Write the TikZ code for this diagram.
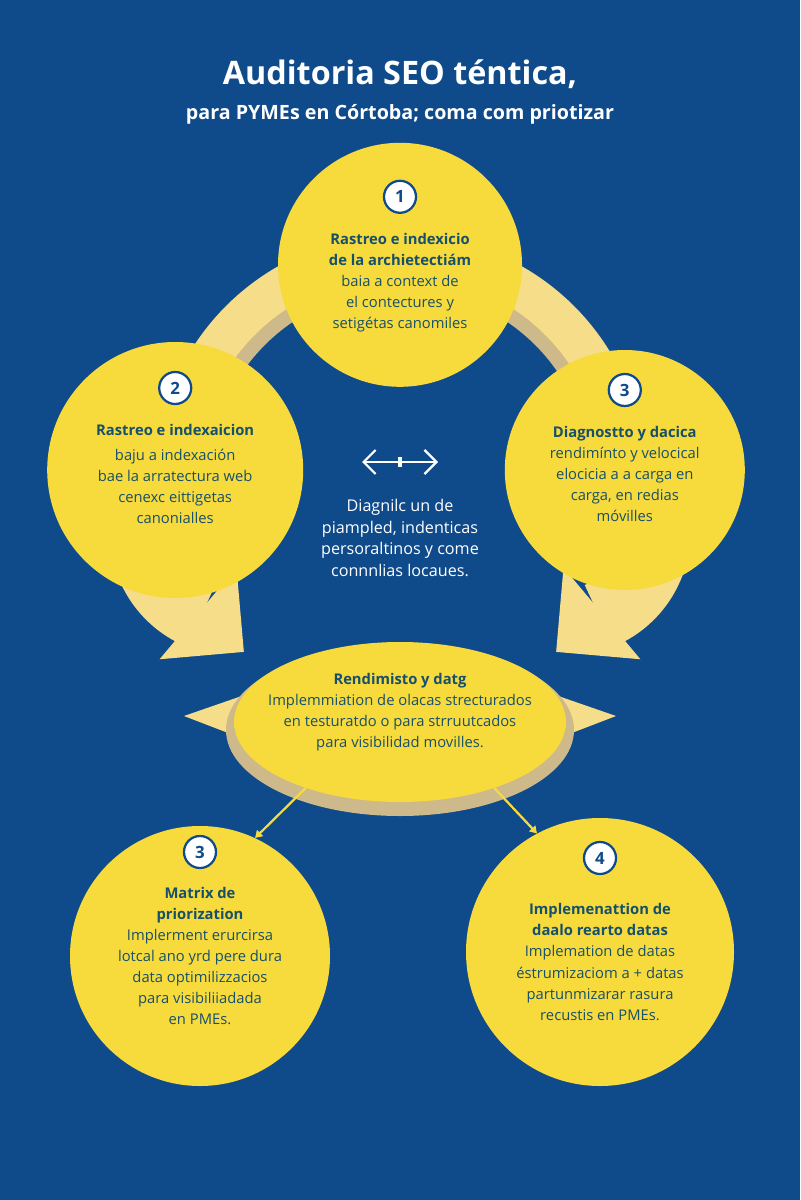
\documentclass[tikz,border=0pt]{standalone}
\usepackage{fontspec}
\setmainfont{Open Sans}
\usetikzlibrary{arrows.meta, positioning, shapes.geometric}
\definecolor{bgblue}{HTML}{0F4A8A}
\definecolor{sunyellow}{HTML}{F7DA3C}
\definecolor{paleyellow}{HTML}{F5DD8A}
\definecolor{tanshade}{HTML}{CDB98A}
\definecolor{inkteal}{HTML}{17506A}
\tikzset{
  stepdisc/.style={circle, fill=sunyellow},
  badge/.style={circle, draw=bgblue, line width=1.6pt, fill=white, minimum size=0.8cm, inner sep=0pt,
    text=bgblue, font=\bfseries\fontsize{12}{14}\selectfont},
  steptext/.style={align=center, text=inkteal, font=\fontsize{10.5}{15}\selectfont},
  bigarrow/.style={paleyellow, line width=1.7cm, -{Triangle[width=2.9cm, length=1.5cm]}},
}
\begin{document}
\begin{tikzpicture}
    % Background
    \fill[bgblue] (0,0) rectangle (20,-30);
    \useasboundingbox (0,0) rectangle (20,-30);

    % Title
    \node[text=white, font=\bfseries\fontsize{23}{27}\selectfont] (title) at (10,-1.85) {Auditoria SEO téntica,};
    \node[text=white, font=\bfseries\fontsize{14}{17}\selectfont] (subtitle) at (10,-2.85) {para PYMEs en Córtoba; coma com priotizar};

    % Ring behind the steps
    \draw[paleyellow, line width=1.3cm] (10,-12) ++(200:5.5) arc (200:-20:5.5);
    \draw[tanshade, line width=0.35cm] (10,-12) ++(200:4.95) arc (200:-20:4.95);

    % Big arrows down to the centre step
    \draw[bigarrow] (3.6,-13.6) to[out=-80,in=140] (6.1,-16.3);
    \draw[bigarrow] (16.4,-13.6) to[out=-100,in=40] (13.9,-16.3);

    % Ellipse side wings
    \fill[paleyellow] (4.6,-17.9) -- (7.2,-17.0) -- (7.2,-18.9) -- cycle;
    \fill[paleyellow] (15.4,-17.9) -- (12.8,-17.0) -- (12.8,-18.9) -- cycle;

    % Steps
    \node[stepdisc, minimum size=6.1cm] (s1) at (10,-6.62) {};
    \node[stepdisc, minimum size=6.4cm] (s2) at (4.38,-11.75) {};
    \node[stepdisc, minimum size=6.0cm] (s3) at (15.62,-11.75) {};
    \fill[tanshade] (10,-18.25) ellipse (4.35cm and 2.15cm);
    \node[ellipse, fill=sunyellow, minimum width=8.3cm, minimum height=4.0cm] (s5) at (10,-18.05) {};
    \node[stepdisc, minimum size=6.5cm] (s6) at (5,-23.9) {};
    \node[stepdisc, minimum size=6.7cm] (s7) at (15,-23.8) {};

    % Connectors to lower steps
    \draw[sunyellow, line width=1.6pt, -{Triangle[length=5pt, width=6pt]}] (s5.215) -- (s6.65);
    \draw[sunyellow, line width=1.6pt, -{Triangle[length=5pt, width=6pt]}] (s5.325) -- (s7.118);

    % Badges
    \node[badge] (b1) at ([yshift=1.7cm]s1.center) {1};
    \node[badge] (b2) at ([yshift=2.05cm]s2.center) {2};
    \node[badge] (b3) at ([yshift=2.0cm]s3.center) {3};
    \node[badge] (b6) at ([yshift=2.6cm]s6.center) {3};
    \node[badge] (b7) at ([yshift=2.35cm]s7.center) {4};

    % Step texts
    \node[steptext] (t1) at ([yshift=-0.45cm]s1.center) {\textbf{Rastreo e indexicio}\\\textbf{de la archietectiám}\\baia a context de\\el contectures y\\setigétas canomiles};
    \node[steptext] (t2) at ([yshift=-0.1cm]s2.center) {\textbf{Rastreo e indexaicion}\\[3pt]baju a indexación\\bae la arratectura web\\cenexc eittigetas\\canonialles};
    \node[steptext] (t3) at ([yshift=-0.1cm]s3.center) {\textbf{Diagnostto y dacica}\\rendimínto y velocical\\elocicia a a carga en\\carga, en redias\\móvilles};
    \node[steptext] (t5) at ([yshift=0.25cm]s5.center) {\textbf{Rendimisto y datg}\\Implemmiation de olacas strecturados\\en testuratdo o para strruutcados\\para visibilidad movilles.};
    \node[steptext] (t6) at ([yshift=0cm]s6.center) {\textbf{Matrix de}\\\textbf{priorization}\\Implerment erurcirsa\\lotcal ano yrd pere dura\\data optimilizzacios\\para visibiliiadada\\en PMEs.};
    \node[steptext] (t7) at ([yshift=-0.25cm]s7.center) {\textbf{Implemenattion de}\\\textbf{daalo rearto datas}\\Implemation de datas\\éstrumizaciom a + datas\\partunmizarar rasura\\recustis en PMEs.};

    % Center
    \coordinate (dl) at (9.05,-11.55);
    \coordinate (dr) at (10.95,-11.55);
    \draw[white, line width=1.6pt, {Straight Barb[length=0.3cm, width=0.6cm]}-{Straight Barb[length=0.3cm, width=0.6cm]}] (dl) -- (dr);
    \draw[white, line width=2.5pt] (10,-11.42) -- (10,-11.68);
    \node[align=center, text=white, font=\fontsize{11.5}{15.5}\selectfont] (note) at (10,-13.45) {Diagnilc un de\\piampled, indenticas\\persoraltinos y come\\connnlias locaues.};
\end{tikzpicture}
\end{document}
